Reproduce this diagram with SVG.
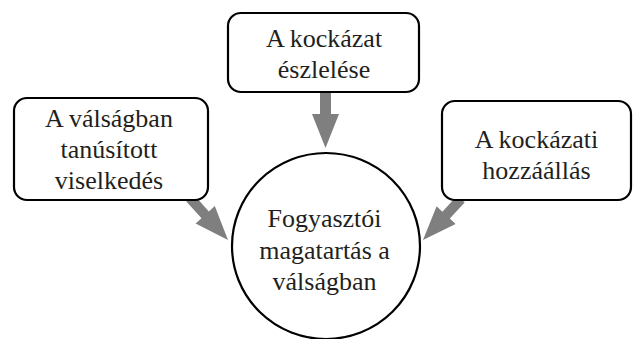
<svg xmlns="http://www.w3.org/2000/svg" width="637" height="339" viewBox="0 0 637 339">
<style>
.box{fill:#fff;stroke:#000;stroke-width:2.2}
.arrow{fill:#7f7f7f;stroke:none}
.t{font-family:'Liberation Serif','Times New Roman',serif;font-size:26px;fill:#231f20;text-anchor:middle}
</style>
<rect width="637" height="339" fill="#fff"/>
<g id="connectors">
<polygon class="arrow" points="320,88 331,88 331,114 339,114 325.5,148 312,114 320,114"/>
<polygon class="arrow" points="193.7,194.6 208.9,211.4 214.8,206.1 228,240 195.6,223.5 201.5,218.2 186.3,201.4"/>
<polygon class="arrow" points="464.7,202.4 449.8,218.5 455.6,223.9 423,240 436.6,206.3 442.4,211.7 457.3,195.6"/>
</g>
<g id="node-top">
<rect class="box" x="228" y="13" width="191" height="79" rx="13"/>
<text class="t" x="324" y="47">A kockázat</text>
<text class="t" x="324" y="78">észlelése</text>
</g>
<g id="node-left">
<rect class="box" x="14" y="98" width="194" height="102" rx="13"/>
<text class="t" x="109" y="127">A válságban</text>
<text class="t" x="109" y="158">tanúsított</text>
<text class="t" x="109" y="189">viselkedés</text>
</g>
<g id="node-right">
<rect class="box" x="442" y="101" width="189" height="99" rx="13"/>
<text class="t" x="536.5" y="148">A kockázati</text>
<text class="t" x="536.5" y="179">hozzáállás</text>
</g>
<g id="node-center">
<ellipse class="box" cx="326" cy="246" rx="94" ry="93"/>
<text class="t" x="324.5" y="227">Fogyasztói</text>
<text class="t" x="324.5" y="258.5">magatartás a</text>
<text class="t" x="324.5" y="290">válságban</text>
</g>
</svg>
